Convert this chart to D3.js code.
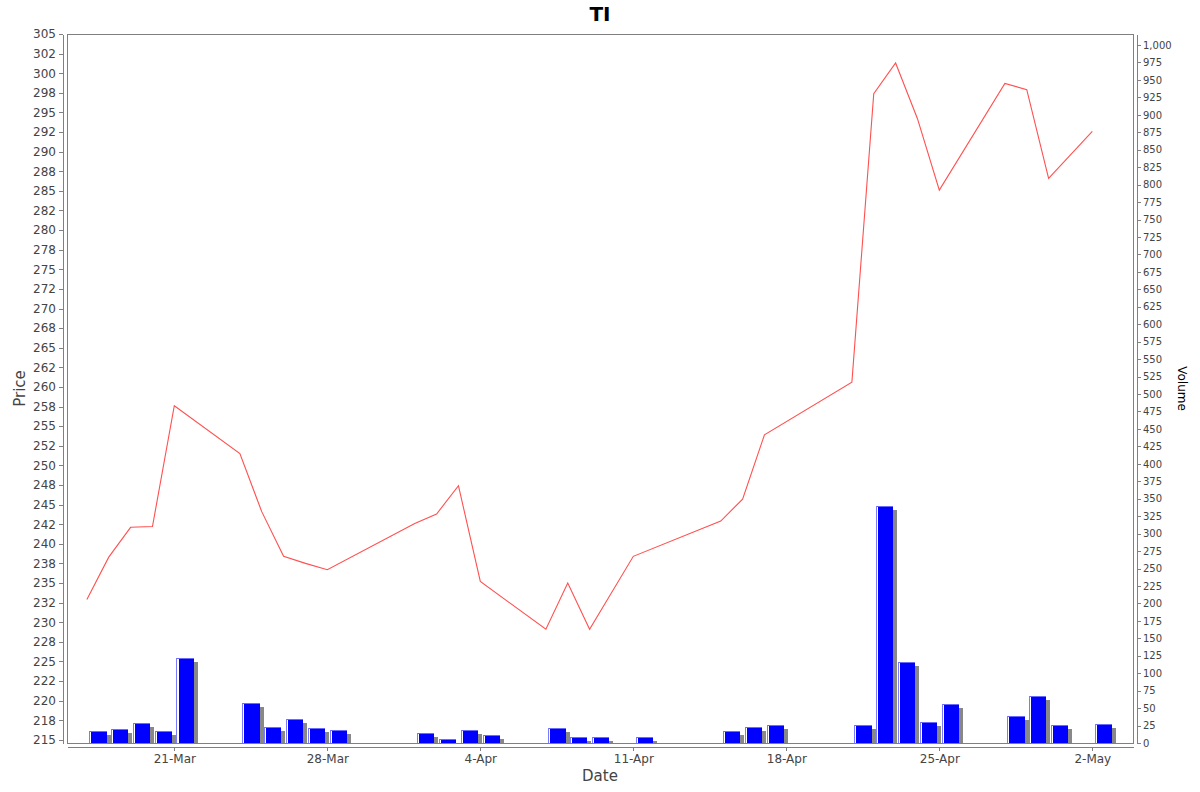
<!DOCTYPE html>
<html lang="en">
<head>
    <meta charset="UTF-8">
    <title>TI</title>
    <script src="https://d3js.org/d3.v7.min.js"></script>
    <style>
        body { margin: 0; background: #fff; font-family: "DejaVu Sans", sans-serif; }
        .axis path, .axis line { stroke: #808080; shape-rendering: crispEdges; }
        .axis text { fill: #444; }
        .frame { fill: none; stroke: #808080; shape-rendering: crispEdges; }
        .price-line { fill: none; stroke: #ff5050; stroke-width: 1.1px; }
    </style>
</head>
<body>
    <svg width="1200" height="792"></svg>
    <script>
        // trading days (2014), close price and volume
        const dates = [
            "2014-03-17", "2014-03-18", "2014-03-19", "2014-03-20", "2014-03-21",
            "2014-03-24", "2014-03-25", "2014-03-26", "2014-03-27", "2014-03-28",
            "2014-04-01", "2014-04-02", "2014-04-03", "2014-04-04",
            "2014-04-07", "2014-04-08", "2014-04-09", "2014-04-11",
            "2014-04-15", "2014-04-16", "2014-04-17",
            "2014-04-21", "2014-04-22", "2014-04-23", "2014-04-24", "2014-04-25",
            "2014-04-28", "2014-04-29", "2014-04-30", "2014-05-02"
        ];
        const prices = [
            232.9, 238.3, 242.1, 242.2, 257.6,
            251.5, 244.1, 238.4, 237.5, 236.7,
            242.6, 243.8, 247.4, 235.2,
            229.1, 235.0, 229.1, 238.4,
            242.9, 245.7, 253.9,
            260.6, 297.4, 301.3, 294.2, 285.1,
            298.7, 297.9, 286.6, 292.6
        ];
        const volumes = [
            17, 20, 28, 17, 122,
            58, 23, 35, 22, 18,
            14, 6, 18, 11,
            22, 8, 9, 9,
            17, 23, 26,
            26, 339, 116, 30, 56,
            38, 67, 26, 27
        ];
        const xTickDates = ["2014-03-21", "2014-03-28", "2014-04-04", "2014-04-11",
                            "2014-04-18", "2014-04-25", "2014-05-02"];
        const priceTicks = d3.range(215, 305.01, 2.5);
        const volumeTicks = d3.range(0, 1000.01, 25);

        const parse = d3.utcParse("%Y-%m-%d");
        const data = dates.map((d, i) => ({ date: parse(d), price: prices[i], volume: volumes[i] }));

        const svg = d3.select("svg");
        const plotL = 67, plotR = 1133, plotT = 34, plotB = 743;
        const DAY = 864e5;

        const x = d3.scaleUtc()
            .domain([new Date(Date.UTC(2014, 2, 16, 2, 10)), new Date(Date.UTC(2014, 4, 3, 20, 40))])
            .range([plotL, plotR]);
        const yPrice = d3.scaleLinear().domain([214.6, 305.0]).range([plotB, plotT]);
        const yVol = d3.scaleLinear().domain([0, 1015.8]).range([plotB, plotT]);

        // half-even rounding like the original labels (302.5 -> 302, 297.5 -> 298)
        function priceFmt(v) {
            const f = Math.floor(v);
            if (Math.abs(v - f - 0.5) < 1e-9) return String(f % 2 === 0 ? f : f + 1);
            return String(Math.round(v));
        }

        svg.append("defs").append("clipPath").attr("id", "plot-clip")
            .append("rect").attr("x", plotL).attr("y", plotT)
            .attr("width", plotR - plotL).attr("height", plotB - plotT);

        const plot = svg.append("g").attr("clip-path", "url(#plot-clip)");

        // volume bars: centred on midday, 80% of a day wide
        const barX = d => x(new Date(+d.date + 0.1 * DAY));
        const barW = d => x(new Date(+d.date + 0.9 * DAY)) - barX(d);

        plot.selectAll(".shadow").data(data).enter().append("rect")
            .attr("class", "shadow")
            .attr("x", d => barX(d) + 4)
            .attr("y", d => yVol(d.volume) + 4)
            .attr("width", barW)
            .attr("height", d => plotB - yVol(d.volume))
            .attr("fill", "#888")
            .attr("shape-rendering", "crispEdges");

        const bar = plot.selectAll(".bar").data(data).enter().append("g").attr("class", "bar")
            .attr("shape-rendering", "crispEdges");
        bar.append("rect")
            .attr("x", barX)
            .attr("y", d => yVol(d.volume))
            .attr("width", barW)
            .attr("height", d => plotB - yVol(d.volume))
            .attr("fill", "#0000ff");
        bar.append("rect")
            .attr("x", barX)
            .attr("y", d => yVol(d.volume))
            .attr("width", barW)
            .attr("height", 1)
            .attr("fill", "#6a6aff");
        bar.append("rect")
            .attr("x", barX)
            .attr("y", d => yVol(d.volume))
            .attr("width", 1)
            .attr("height", d => plotB - yVol(d.volume))
            .attr("fill", "#7a7aff");
        bar.append("rect")
            .attr("x", d => barX(d) + 1)
            .attr("y", d => yVol(d.volume) + 1)
            .attr("width", 1.2)
            .attr("height", d => plotB - yVol(d.volume) - 1)
            .attr("fill", "#ffffff");

        const line = d3.line().x(d => x(d.date)).y(d => yPrice(d.price));
        plot.append("path").datum(data).attr("class", "price-line").attr("d", line);

        svg.append("rect").attr("class", "frame")
            .attr("x", plotL).attr("y", plotT)
            .attr("width", plotR - plotL).attr("height", plotB - plotT);

        // axes
        svg.append("g").attr("class", "axis")
            .attr("transform", `translate(${plotL - 4},0)`)
            .call(d3.axisLeft(yPrice).tickValues(priceTicks).tickFormat(priceFmt)
                .tickSize(4).tickSizeOuter(0).tickPadding(3))
            .call(g => g.selectAll("text").attr("font-size", 12).attr("font-family", "DejaVu Sans"));

        svg.append("g").attr("class", "axis")
            .attr("transform", `translate(${plotR + 4},0)`)
            .call(d3.axisRight(yVol).tickValues(volumeTicks).tickFormat(d3.format(","))
                .tickSize(4).tickSizeOuter(0).tickPadding(2))
            .call(g => g.selectAll("text").attr("font-size", 10).attr("font-family", "DejaVu Sans").attr("fill", "#000"));

        svg.append("g").attr("class", "axis")
            .attr("transform", `translate(0,${plotB + 4})`)
            .call(d3.axisBottom(x).tickValues(xTickDates.map(parse)).tickFormat(d3.utcFormat("%-d-%b"))
                .tickSize(4).tickSizeOuter(0).tickPadding(3))
            .call(g => g.selectAll("text").attr("font-size", 12).attr("font-family", "DejaVu Sans"));

        // titles
        svg.append("text")
            .attr("x", (plotL + plotR) / 2).attr("y", 21)
            .attr("text-anchor", "middle")
            .attr("font-size", 20).attr("font-weight", "bold")
            .text("TI");

        svg.append("text")
            .attr("x", (plotL + plotR) / 2).attr("y", 781)
            .attr("text-anchor", "middle")
            .attr("font-size", 15).attr("fill", "#444")
            .text("Date");

        svg.append("text")
            .attr("transform", `translate(25,${(plotT + plotB) / 2}) rotate(-90)`)
            .attr("text-anchor", "middle")
            .attr("font-size", 15).attr("fill", "#444")
            .text("Price");

        svg.append("text")
            .attr("transform", `translate(1178,${(plotT + plotB) / 2}) rotate(90)`)
            .attr("text-anchor", "middle")
            .attr("font-size", 12).attr("fill", "#000")
            .text("Volume");
    </script>
</body>
</html>
